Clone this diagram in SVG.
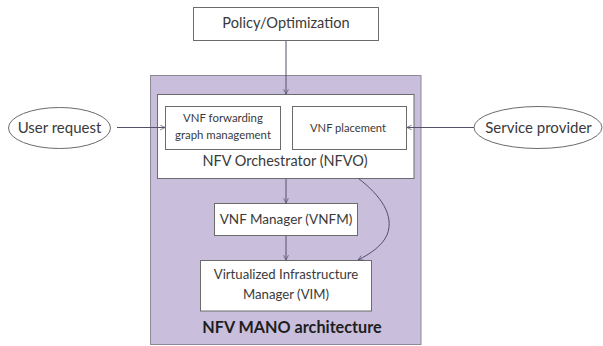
<svg xmlns="http://www.w3.org/2000/svg" width="603" height="346" viewBox="0 0 603 346">
<style>
.box{fill:#fff;stroke:#6b6b6b;stroke-width:1}
.t{font-family:Lato,"Open Sans","Liberation Sans",sans-serif;fill:#3a3a3a;text-anchor:middle}
.c{fill:none;stroke:#55506a;stroke-width:1}
</style>
<defs>
<marker id="ah" viewBox="0 0 10 10" refX="9" refY="5" markerWidth="6" markerHeight="6" orient="auto" markerUnits="userSpaceOnUse">
<path d="M1,1 L9,5 L1,9" fill="none" stroke="#55506a" stroke-width="1.2"/>
</marker>
</defs>
<rect width="603" height="346" fill="#fff"/>
<g id="mano">
<rect x="150.5" y="75.5" width="270.5" height="269" fill="#c9bedb" stroke="#8c8896" stroke-width="1"/>
<text class="t" x="292" y="333" font-size="16.2" font-weight="bold" style="fill:#1e1e1e">NFV MANO architecture</text>
</g>
<g id="policy">
<rect class="box" x="193.5" y="7.5" width="185" height="33"/>
<text class="t" x="286" y="28" font-size="14.6">Policy/Optimization</text>
</g>
<g id="user">
<ellipse cx="59.5" cy="128" rx="51" ry="20.5" fill="#fff" stroke="#6b6b6b"/>
<text class="t" x="59.5" y="133" font-size="15">User request</text>
</g>
<g id="service">
<ellipse cx="538" cy="127.5" rx="64" ry="21" fill="#fff" stroke="#6b6b6b"/>
<text class="t" x="538.5" y="132.5" font-size="15">Service provider</text>
</g>
<g id="nfvo">
<rect class="box" x="157.5" y="94.5" width="256.5" height="84"/>
<text class="t" x="285" y="166" font-size="14.5">NFV Orchestrator (NFVO)</text>
</g>
<g id="fwd">
<rect class="box" x="165.5" y="106.5" width="115" height="43"/>
<text class="t" x="223" y="122" font-size="11.4">VNF forwarding</text>
<text class="t" x="223" y="139" font-size="11.4">graph management</text>
</g>
<g id="placement">
<rect class="box" x="292.5" y="106.5" width="114" height="43"/>
<text class="t" x="348" y="132" font-size="11.2">VNF placement</text>
</g>
<g id="vnfm">
<rect class="box" x="214.5" y="203.5" width="143" height="32"/>
<text class="t" x="286" y="224" font-size="13.5">VNF Manager (VNFM)</text>
</g>
<g id="vim">
<rect class="box" x="200.5" y="260.5" width="171" height="50.5"/>
<text class="t" x="286" y="279" font-size="13.2">Virtualized Infrastructure</text>
<text class="t" x="286" y="299" font-size="13.2">Manager (VIM)</text>
</g>
<g id="connectors">
<path class="c" d="M286,41 L286,94" marker-end="url(#ah)"/>
<path class="c" d="M117,127.5 L165,127.5" marker-end="url(#ah)"/>
<path class="c" d="M474,127.5 L407,127.5" marker-end="url(#ah)"/>
<path class="c" d="M286,179 L286,203" marker-end="url(#ah)"/>
<path class="c" d="M286,236 L286,260" marker-end="url(#ah)"/>
<path class="c" d="M358.5,178.5 C380,195 395,215 387,235 C382,246 370,254 358,260" marker-end="url(#ah)"/>
</g>
</svg>
